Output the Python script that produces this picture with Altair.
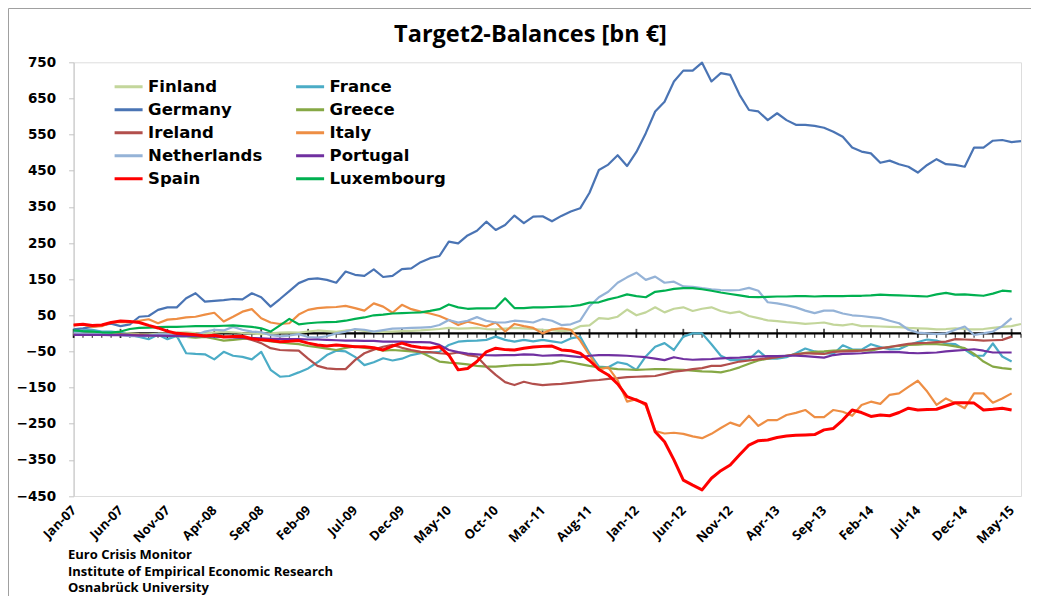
import json
import altair as alt
import pandas as pd

# ---------------- data ----------------
countries = ["Finland", "France", "Germany", "Greece", "Ireland",
             "Italy", "Netherlands", "Portugal", "Spain", "Luxembourg"]
colors = ["#C3D69B", "#4BACC6", "#4A74B4", "#86A845", "#B24F4C",
          "#EE8E44", "#95B3D7", "#7030A0", "#FF0000", "#00B050"]

tick_labels = ["Jan-07", "Jun-07", "Nov-07", "Apr-08", "Sep-08", "Feb-09", "Jul-09",
               "Dec-09", "May-10", "Oct-10", "Mar-11", "Aug-11", "Jan-12", "Jun-12",
               "Nov-12", "Apr-13", "Sep-13", "Feb-14", "Jul-14", "Dec-14", "May-15"]

finland = [-3, -2, 0, 2, 3, 2, 0, -2, -3, -1,
           0, 2, 3, 1, 0, 2, 4, 3, 1, 0,
           -2, 0, 2, 3, 2, 5, 8, 6, 4, 8,
           10, 7, 5, 4, 5, 6, 7, 8, 10, 12,
           15, 13, 14, 15, 12, 11, 13, 15, 14, 12,
           10, 9, 6, 8, 20, 22, 42, 40, 46, 66,
           50, 58, 72, 58, 68, 72, 62, 68, 72, 62,
           56, 60, 48, 42, 36, 34, 31, 29, 26, 28,
           30, 24, 22, 26, 20, 20, 19, 18, 17, 15,
           14, 13, 11, 12, 14, 12, 11, 12, 15, 18,
           20, 26]
france = [2, 8, 10, 5, 5, 2, -4, -10, -16, -4,
          -16, -7, -55, -57, -58, -72, -51, -62, -65, -72,
          -51, -101, -120, -118, -108, -97, -80, -60, -48, -50,
          -65, -88, -80, -69, -75, -70, -60, -55, -53, -51,
          -32, -23, -21, -20, -18, -9, -18, -23, -18, -22,
          -18, -22, -26, -14, -9, -55, -92, -94, -80, -85,
          -101, -64, -37, -27, -46, -9, 0, 0, -30, -62,
          -74, -74, -72, -48, -70, -70, -66, -55, -42, -50,
          -55, -57, -33, -44, -45, -30, -38, -44, -44, -32,
          -24, -17, -20, -28, -30, -45, -62, -62, -28, -64,
          -78]
germany = [11, 14, 18, 23, 27, 20, 25, 46, 48, 65,
           72, 72, 97, 111, 88, 90, 92, 95, 94, 111,
           100, 74, 95, 117, 139, 150, 152, 148, 140, 171,
           162, 159, 177, 156, 159, 178, 180, 197, 208, 214,
           254, 249, 271, 284, 309, 286, 300, 326, 305, 323,
           324, 310, 325, 337, 346, 389, 452, 467, 493, 463,
           502, 554, 614, 641, 697, 727, 727, 749, 697, 720,
           715, 660, 618, 614, 590, 609, 590, 577, 577, 574,
           569, 558, 544, 514, 503, 498, 472, 478, 468, 461,
           445, 466, 482, 468, 466, 461, 514, 514, 533, 535,
           529, 532]
greece = [-2, -2, -3, -3, -3, -4, -4, -5, -5, -5,
          -5, -8, -10, -12, -10, -15, -20, -18, -15, -14,
          -18, -22, -25, -28, -30, -35, -38, -42, -46, -40,
          -36, -40, -42, -48, -46, -48, -50, -52, -65, -78,
          -81, -83, -86, -90, -92, -92, -90, -88, -87, -87,
          -85, -83, -76, -80, -85, -90, -94, -96, -99, -100,
          -101, -100, -99, -99, -100, -101, -103, -105, -106, -108,
          -102, -94, -84, -75, -70, -66, -62, -58, -54, -51,
          -50, -48, -47, -46, -47, -48, -42, -37, -35, -32,
          -31, -29, -30, -32, -36, -41, -57, -78, -92, -96,
          -99]
ireland = [-3, -3, -2, -2, -3, -3, -4, -4, -5, -5,
           -5, -6, -6, -7, -8, -8, -9, -10, -12, -18,
           -27, -41, -46, -47, -48, -70, -90, -97, -99, -99,
           -74, -55, -45, -37, -32, -40, -46, -51, -52, -55,
           -57, -53, -60, -64, -92, -115, -135, -143, -134, -140,
           -143, -141, -140, -137, -134, -131, -129, -126, -124, -121,
           -120, -119, -118, -112, -106, -103, -99, -96, -90, -90,
           -84, -78, -75, -72, -69, -66, -62, -58, -55, -56,
           -57, -51, -50, -49, -48, -44, -41, -38, -33, -29,
           -27, -26, -24, -23, -16, -17, -18, -20, -19, -18,
           -9]
italy = [23, 24, 18, 20, 30, 32, 30, 35, 39, 28,
         38, 40, 44, 46, 52, 57, 33, 46, 60, 67,
         42, 30, 26, 28, 52, 65, 70, 72, 73, 76,
         70, 63, 83, 74, 57, 79, 67, 60, 55, 48,
         37, 23, 32, 26, 19, 30, 5, 26, 20, 15,
         0, 11, 14, 10, -20, -60, -100, -94, -130, -189,
         -182, -200, -270, -277, -275, -278, -285, -290, -278, -262,
         -247, -256, -228, -256, -240, -240, -226, -220, -212, -232,
         -232, -212, -217, -228, -198, -189, -195, -170, -166, -148,
         -131, -161, -198, -180, -193, -207, -166, -166, -192, -180,
         -166]
netherlands = [2, 0, -2, 0, -3, -5, -8, -8, -6, -3,
               -2, -8, -10, -5, 5, 10, 8, 18, 10, 5,
               3, -5, -8, -6, -2, -10, -12, -8, 0, 5,
               12, 10, 5, 9, 13, 14, 15, 16, 17, 23,
               37, 30, 35, 45, 35, 30, 30, 35, 33, 30,
               40, 35, 23, 25, 35, 75, 100, 115, 140, 155,
               168, 148, 157, 140, 143, 130, 129, 125, 122, 120,
               119, 120, 126, 118, 86, 83, 78, 72, 63, 56,
               63, 63, 55, 50, 48, 45, 42, 35, 28, 10,
               2, 0, -2, 0, 10, 19, -4, 0, 5, 20,
               42]
portugal = [-4, -4, -4, -4, -5, -5, -5, -6, -6, -6,
            -7, -7, -7, -8, -8, -9, -10, -11, -12, -13,
            -14, -15, -15, -16, -16, -17, -17, -18, -19, -20,
            -20, -21, -21, -23, -23, -23, -24, -24, -25, -32,
            -46, -52, -56, -58, -60, -61, -60, -60, -58, -59,
            -62, -61, -60, -63, -66, -62, -60, -60, -61, -62,
            -64, -66, -70, -74, -66, -71, -73, -72, -71, -69,
            -68, -67, -65, -64, -63, -63, -62, -62, -63, -65,
            -67, -60, -57, -56, -55, -53, -52, -51, -52, -54,
            -55, -54, -53, -50, -48, -46, -44, -48, -53, -53,
            -53]
spain = [23, 25, 22, 23, 30, 34, 33, 30, 22, 15,
         6, 0, -2, -4, -7, -5, -10, -9, -8, -15,
         -18, -20, -23, -22, -20, -27, -32, -35, -32, -34,
         -37, -37, -40, -46, -35, -27, -35, -39, -41, -37,
         -60, -101, -97, -78, -51, -41, -45, -46, -41, -38,
         -36, -35, -46, -48, -55, -75, -100, -115, -140, -175,
         -185, -195, -272, -300, -350, -406, -420, -433, -401, -380,
         -364, -336, -309, -297, -295, -288, -284, -282, -281, -280,
         -267, -263, -240, -212, -219, -230, -226, -228, -219, -207,
         -212, -211, -210, -201, -192, -192, -193, -212, -210, -207,
         -212]
luxembourg = [8, 6, 5, 3, 2, 5, 12, 15, 16, 17,
              18, 18, 19, 20, 20, 20, 21, 22, 20, 18,
              14, 5, 22, 40, 25, 28, 30, 31, 32, 35,
              40, 44, 50, 52, 55, 56, 57, 58, 62, 67,
              80, 72, 68, 69, 69, 70, 97, 70, 70, 72,
              72, 73, 74, 75, 78, 85, 86, 94, 100, 108,
              103, 100, 115, 118, 123, 125, 125, 122, 118, 113,
              109, 105, 101, 100, 101, 102, 102, 103, 103, 102,
              103, 103, 103, 104, 104, 105, 107, 106, 105, 104,
              103, 102, 108, 112, 107, 108, 106, 104, 110, 118,
              116]

series = {"Finland": finland, "France": france, "Germany": germany,
          "Greece": greece, "Ireland": ireland, "Italy": italy,
          "Netherlands": netherlands, "Portugal": portugal,
          "Spain": spain, "Luxembourg": luxembourg}

title_text = "Target2-Balances [bn €]"
footer_lines = ["Euro Crisis Monitor",
                "Institute of Empirical Economic Research",
                "Osnabrück University"]

# ---------------- frames ----------------
rows = []
for c in countries:
    for i, v in enumerate(series[c]):
        rows.append({"month": i, "country": c, "value": v})
df = pd.DataFrame(rows)

n_months = max(len(s) for s in series.values())
ticks_df = pd.DataFrame({"month": list(range(n_months)), "value": [0] * n_months})
major_df = ticks_df[ticks_df["month"] % 5 == 0]
zero_df = pd.DataFrame({"month": [0], "end": [n_months - 1], "value": [0]})
one = pd.DataFrame({"a": [0]})

# ---------------- geometry ----------------
W = 947.4
H = 433.7
PAD_L, PAD_T, PAD_R, PAD_B = 65.6, 54.3, 10, 100

x_scale = alt.Scale(domain=[0, n_months - 1], nice=False, zero=False)
y_scale = alt.Scale(domain=[-450, 750], nice=False, zero=False)

label_expr = json.dumps(tick_labels) + "[round(datum.value / 5)]"

x_axis = alt.Axis(values=list(range(0, 101, 5)), labelExpr=label_expr,
                  labelAngle=-45, labelAlign="right", labelBaseline="middle",
                  labelPadding=12, domain=False, ticks=False, grid=False, title=None,
                  labelFont="Open Sans", labelFontWeight="bold", labelFontSize=13,
                  labelColor="black", labelOverlap=False, labelFlush=False)
y_axis = alt.Axis(values=list(range(-450, 751, 100)), labelFont="DejaVu Sans",
                  labelFontWeight="bold", labelFontSize=13.5, labelColor="black",
                  domainColor="#C4C4C4", tickColor="#C4C4C4", tickSize=5,
                  labelPadding=13, grid=False, title=None)

legend = alt.Legend(title=None, orient="none", legendX=39.5, legendY=13, columns=2,
                    direction="horizontal",
                    symbolType="stroke", symbolSize=784, symbolStrokeWidth=3,
                    labelFont="DejaVu Sans", labelFontWeight="bold", labelFontSize=16.5,
                    labelColor="black", clipHeight=23, rowPadding=0,
                    columnPadding=31.5, labelOffset=4, padding=0)
color = alt.Color("country:N", scale=alt.Scale(domain=countries, range=colors),
                  legend=legend)

X = alt.X("month:Q", scale=x_scale, axis=x_axis)
Y = alt.Y("value:Q", scale=y_scale, axis=y_axis)

zero_line = alt.Chart(zero_df).mark_rule(color="black", strokeWidth=2.2).encode(
    x=X, x2="end:Q", y=Y)

minor_ticks = alt.Chart(ticks_df).mark_tick(
    orient="vertical", size=4, thickness=1.3, color="black", yOffset=2.5).encode(x=X, y=Y)

major_ticks = alt.Chart(major_df).mark_tick(
    orient="vertical", size=9, thickness=1.8, color="black", yOffset=0).encode(x=X, y=Y)

others = alt.Chart(df).transform_filter(alt.datum.country != "Spain").mark_line(
    strokeWidth=2.2, strokeJoin="round").encode(x=X, y=Y, color=color)

spain_line = alt.Chart(df).transform_filter(alt.datum.country == "Spain").mark_line(
    strokeWidth=3, strokeJoin="round").encode(x=X, y=Y, color=color)

title_mark = alt.Chart(one).mark_text(
    text=title_text, align="center", baseline="alphabetic", font="Open Sans",
    fontWeight="bold", fontSize=23.5, color="black").encode(
    x=alt.value(530.5 - 73.6), y=alt.value(42 - 62.3))

footer = alt.Chart(one).mark_text(
    text="\n".join(footer_lines), lineBreak="\n", lineHeight=16.5, align="left",
    baseline="middle", font="Open Sans", fontWeight="bold", fontSize=13,
    color="black").encode(x=alt.value(68 - 73.6), y=alt.value(555 - 62.3))

border = alt.Chart(one).mark_rect(fillOpacity=0, stroke="#A0A0A0", strokeWidth=1).encode(
    x=alt.value(-PAD_L + 0.5), y=alt.value(-PAD_T + 0.5),
    x2=alt.value(W + PAD_R + 30), y2=alt.value(H + PAD_B + 30))

chart = alt.layer(
    zero_line, minor_ticks, major_ticks, others, spain_line, title_mark, footer, border
).properties(
    width=W, height=H,
    padding={"left": PAD_L, "top": PAD_T, "right": PAD_R, "bottom": PAD_B},
    autosize=alt.AutoSizeParams(type="none"),
).configure_view(strokeWidth=0, stroke="transparent").configure(background="white")

chart.save("out.html", embed_options={"renderer": "svg", "actions": False})
